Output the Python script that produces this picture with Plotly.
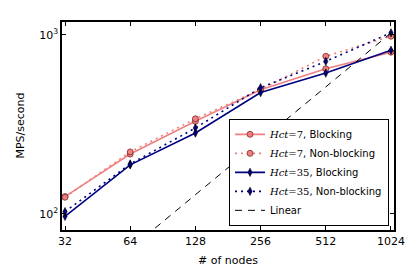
import plotly.graph_objects as go

nodes = [32, 64, 128, 256, 512, 1024]
tick_labels = ["32", "64", "128", "256", "512", "1024"]

hct7_blocking = [125, 216, 329, 494, 646, 800]
hct7_nonblocking = [124, 222, 340, 494, 759, 982]
hct35_blocking = [97, 188, 283, 476, 612, 820]
hct35_nonblocking = [103, 190, 302, 507, 711, 1026]
linear = [32, 64, 128, 256, 512, 1024]

SALMON = "#F08080"
NAVY = "#000080"
FONT = "DejaVu Sans"

def hct(n, kind):
    return ('<span style="font-family:DejaVu Serif;font-style:italic">Hct</span>'
            f'<span style="font-family:DejaVu Serif">={n}</span>, {kind}')

fig = go.Figure()
fig.add_trace(go.Scatter(
    x=nodes, y=hct7_blocking, mode="lines+markers", name=hct(7, "Blocking"),
    line=dict(color=SALMON, width=1.6),
    marker=dict(symbol="circle", size=6, color=SALMON, line=dict(color="#7a2a2a", width=0.8))))
fig.add_trace(go.Scatter(
    x=nodes, y=hct7_nonblocking, mode="lines+markers", name=hct(7, "Non-blocking"),
    line=dict(color=SALMON, width=1.6, dash="2px,4px"),
    marker=dict(symbol="circle", size=6, color=SALMON, line=dict(color="#7a2a2a", width=0.8))))
fig.add_trace(go.Scatter(
    x=nodes, y=hct35_blocking, mode="lines+markers", name=hct(35, "Blocking"),
    line=dict(color=NAVY, width=1.6),
    marker=dict(symbol="diamond-tall", size=6, color=NAVY, line=dict(color="black", width=0.6))))
fig.add_trace(go.Scatter(
    x=nodes, y=hct35_nonblocking, mode="lines+markers", name=hct(35, "Non-blocking"),
    line=dict(color=NAVY, width=1.6, dash="2px,4px"),
    marker=dict(symbol="diamond-tall", size=6, color=NAVY, line=dict(color="black", width=0.6))))
fig.add_trace(go.Scatter(
    x=nodes, y=linear, mode="lines", name="Linear",
    line=dict(color="black", width=1, dash="7px,6px")))

fig.update_layout(
    width=415, height=278,
    margin=dict(l=62, r=21, t=22, b=48),
    paper_bgcolor="white", plot_bgcolor="white",
    font=dict(family=FONT, size=11, color="black"),
    showlegend=True,
    legend=dict(
        x=0.985, y=0.02, xanchor="right", yanchor="bottom",
        bgcolor="white", bordercolor="black", borderwidth=1,
        font=dict(family=FONT, size=10), tracegroupgap=0,
        itemwidth=30,
    ),
    annotations=[
        dict(text="# of nodes", xref="paper", yref="paper", x=0.5, y=-0.145,
             xanchor="center", yanchor="middle", showarrow=False,
             font=dict(family=FONT, size=11)),
        dict(text="MPS/second", xref="paper", yref="paper", x=-0.128, y=0.5,
             xanchor="center", yanchor="middle", showarrow=False, textangle=-90,
             font=dict(family=FONT, size=11)),
    ],
)
fig.update_xaxes(
    type="log", range=[1.4913, 3.0242], automargin=False,
    tickvals=nodes, ticktext=tick_labels,
    ticks="inside", ticklen=4, tickcolor="black", tickwidth=1,
    showline=True, linecolor="black", linewidth=1.5, mirror="allticks",
    showgrid=False, zeroline=False,
    tickfont=dict(size=11),
)
fig.update_yaxes(
    type="log", range=[1.9105, 3.0716], automargin=False,
    tickvals=[100, 1000], ticktext=["10<sup>2</sup>", "10<sup>3</sup>"],
    ticks="inside", ticklen=4, tickcolor="black", tickwidth=1,
    showline=True, linecolor="black", linewidth=1.5, mirror="allticks",
    showgrid=False, zeroline=False,
    tickfont=dict(size=11),
)

fig.write_html("out.html", config={"displayModeBar": False},
               post_script="document.body.style.margin='0';")
